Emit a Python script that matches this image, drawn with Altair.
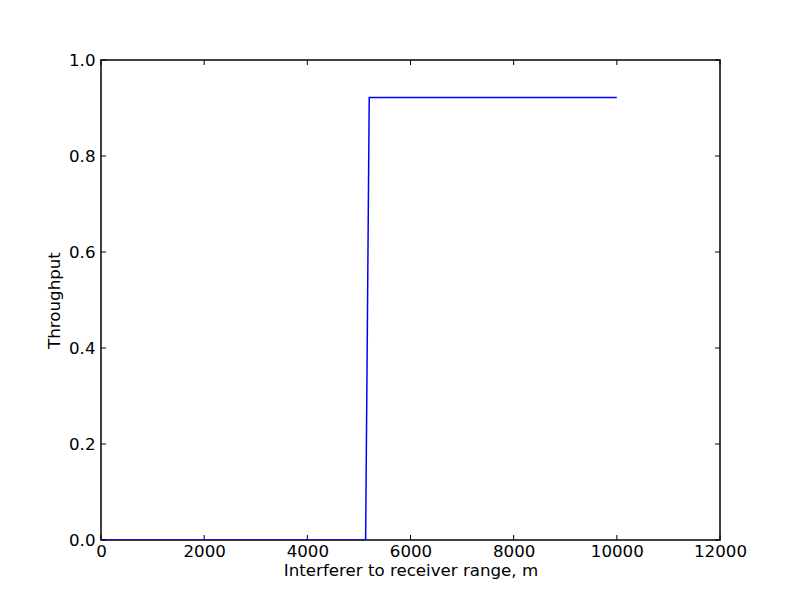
import altair as alt
import pandas as pd

# data
range_m = [0, 5130, 5200, 10000]
throughput = [0.0, 0.0, 0.922, 0.922]
x_ticks = [0, 2000, 4000, 6000, 8000, 10000, 12000]
y_ticks = [0.0, 0.2, 0.4, 0.6, 0.8, 1.0]

df = pd.DataFrame({"range": range_m, "throughput": throughput})
xt = pd.DataFrame({"v": x_ticks})
yt = pd.DataFrame({"v": y_ticks})

W, H = 619, 480
FONT = "DejaVu Sans"
FS = 16.67

xscale = alt.Scale(domain=[0, 12000], nice=False, zero=False)
yscale = alt.Scale(domain=[0, 1], nice=False, zero=False)

line = alt.Chart(df).mark_line(color="#0000ff", strokeWidth=1.5, clip=True).encode(
    x=alt.X("range:Q", scale=xscale,
            axis=alt.Axis(title="Interferer to receiver range, m", values=x_ticks,
                          format="d", grid=False, ticks=False, domain=False,
                          labelFlush=False, labelPadding=3, titlePadding=3,
                          labelFont=FONT, titleFont=FONT,
                          labelFontSize=FS, titleFontSize=FS, labelColor="black",
                          titleColor="black", titleFontWeight="normal")),
    y=alt.Y("throughput:Q", scale=yscale,
            axis=alt.Axis(title="Throughput", values=y_ticks, format=".1f", grid=False,
                          ticks=False, domain=False, labelFlush=False,
                          labelPadding=6, titlePadding=5,
                          labelFont=FONT, titleFont=FONT, labelFontSize=FS,
                          titleFontSize=FS, labelColor="black", titleColor="black",
                          titleFontWeight="normal")),
)

tk = 5
xb = alt.Chart(xt).mark_rule(color="black", strokeWidth=1).encode(
    x=alt.X("v:Q", scale=xscale), y=alt.value(H - tk), y2=alt.value(H))
xtop = alt.Chart(xt).mark_rule(color="black", strokeWidth=1).encode(
    x=alt.X("v:Q", scale=xscale), y=alt.value(0), y2=alt.value(tk))
yl = alt.Chart(yt).mark_rule(color="black", strokeWidth=1).encode(
    y=alt.Y("v:Q", scale=yscale), x=alt.value(0), x2=alt.value(tk))
yr = alt.Chart(yt).mark_rule(color="black", strokeWidth=1).encode(
    y=alt.Y("v:Q", scale=yscale), x=alt.value(W - tk), x2=alt.value(W))

chart = alt.layer(line, xb, xtop, yl, yr).properties(
    width=W, height=H,
    background="white",
    autosize=alt.AutoSizeParams(type="none"),
    padding={"left": 93, "top": 52, "right": 72, "bottom": 60},
).configure_view(stroke="black", strokeWidth=1.5, strokeOpacity=1)

chart.save("out.html", embed_options={"renderer": "svg", "actions": False})
